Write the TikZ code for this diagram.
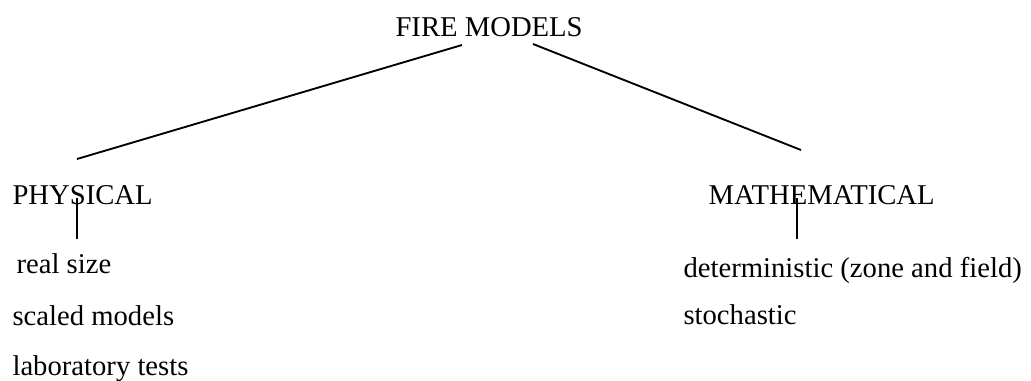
\documentclass[tikz,border=0pt]{standalone}
\usepackage{fontspec}
\setmainfont{Liberation Serif}
\begin{document}
\begin{tikzpicture}[x=0.75pt,y=-0.75pt,
				label/.style={anchor=base west,inner sep=0pt,font=\fontsize{21.5}{26}\selectfont},
				branch/.style={line width=1.4pt},
				thick]
				\useasboundingbox (0,0) rectangle (1031,380);
				% root
				\node[label] (fire) at (395,36) {FIRE MODELS};
				% two kinds
				\node[label] (phys) at (12,204) {PHYSICAL};
				\node[label] (math) at (708,204) {MATHEMATICAL};
				% physical models
				\node[label] (real) at (16,273) {real size};
				\node[label] (scaled) at (12,325) {scaled models};
				\node[label] (lab) at (12,375) {laboratory tests};
				% mathematical models
				\node[label] (determ) at (683,277) {deterministic (zone and field)};
				\node[label] (stoch) at (683,324) {stochastic};
				% end points of the branches
				\coordinate (fireL) at (462,45);
				\coordinate (fireR) at (533,44);
				\coordinate (physTop) at (77,159);
				\coordinate (mathTop) at (801,150);
				\coordinate (physBot) at (77,198);
				\coordinate (physSub) at (77,239);
				\coordinate (mathBot) at (797,198);
				\coordinate (mathSub) at (797,239);
				\draw[branch] (fireL) -- (physTop);
				\draw[branch] (fireR) -- (mathTop);
				\draw[branch] (physBot) -- (physSub);
				\draw[branch] (mathBot) -- (mathSub);
			\end{tikzpicture}
\end{document}
